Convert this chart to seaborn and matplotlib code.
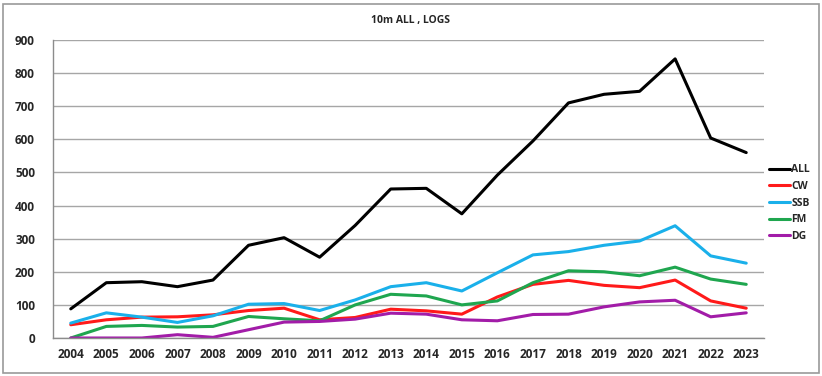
import pandas as pd
import matplotlib.pyplot as plt
import seaborn as sns
from matplotlib.patches import Rectangle

# Values
years = list(range(2004, 2024))
all_logs = [88, 167, 170, 155, 175, 280, 303, 244, 340, 450, 452, 375, 492, 595, 710, 736, 745, 843, 604, 560]
cw = [40, 55, 63, 64, 70, 83, 90, 55, 62, 87, 82, 72, 124, 162, 174, 159, 152, 175, 112, 90]
ssb = [45, 76, 63, 47, 67, 102, 104, 83, 115, 155, 167, 142, 197, 251, 261, 280, 293, 339, 248, 226]
fm = [0, 35, 38, 33, 35, 65, 58, 52, 100, 132, 127, 100, 112, 167, 203, 200, 188, 214, 178, 162]
dg = [0, 0, 0, 10, 2, 25, 48, 50, 57, 75, 72, 55, 52, 71, 72, 94, 109, 114, 64, 76]

series = ['ALL', 'CW', 'SSB', 'FM', 'DG']
colors = ['#000000', '#FF1A1A', '#1AB0EA', '#1FA64F', '#A21CA8']

df = pd.DataFrame({'year': years, 'ALL': all_logs, 'CW': cw, 'SSB': ssb, 'FM': fm, 'DG': dg})
long = df.melt(id_vars='year', var_name='mode', value_name='logs')

sns.set_style('white')
plt.rcParams['font.family'] = ['Open Sans', 'DejaVu Sans']
plt.rcParams['font.weight'] = 'bold'

fig = plt.figure(figsize=(8.22, 3.76), dpi=100)
ax = fig.add_axes([53 / 822, 38 / 376, 711 / 822, 298 / 376])

sns.lineplot(ax=ax, data=long, x='year', y='logs', hue='mode', hue_order=series,
             palette=colors, linewidth=2.2, legend=False)

ax.set_xlim(2003.5, 2023.5)
ax.set_ylim(0, 900)
ax.set_yticks(range(0, 901, 100))
ax.set_xticks(years)
ax.set_xticklabels([str(y) for y in years], fontsize=8.5, fontweight='bold')
ax.set_xticks([y + 0.5 for y in range(2003, 2024)], minor=True)
ax.tick_params(axis='x', which='major', length=0, pad=7)
ax.tick_params(axis='x', which='minor', length=5, color='#8c8c8c', width=1)
ax.tick_params(axis='y', length=5, color='#8c8c8c', width=1, labelsize=8.5, pad=8)
for lbl in ax.get_yticklabels():
    lbl.set_fontweight('bold')
ax.yaxis.grid(True, color='#a6a6a6', linewidth=1)
ax.set_axisbelow(True)
for s in ['top', 'right']:
    ax.spines[s].set_visible(False)
for s in ['left', 'bottom']:
    ax.spines[s].set_color('#8c8c8c')
    ax.spines[s].set_linewidth(1)
ax.set_xlabel('')
ax.set_ylabel('')

handles = [plt.Line2D([], [], color=c, linewidth=2.2) for c in colors]
fig.legend(handles, series, loc='upper left', bbox_to_anchor=(764 / 822, 1 - 159 / 376),
           frameon=False, handlelength=2.0, handletextpad=0.1,
           labelspacing=0.55, borderpad=0, prop={'weight': 'bold', 'size': 7.5})

fig.text(410 / 822, 1 - 20 / 376, '10m ALL , LOGS', ha='center', va='center',
         fontsize=7.5, fontweight='bold')

fig.patches.append(Rectangle((3 / 822, 3 / 376), 816 / 822, 369 / 376, transform=fig.transFigure,
                             fill=False, edgecolor='#9a9a9a', linewidth=1.2))

plt.savefig('out.png', dpi=100)
